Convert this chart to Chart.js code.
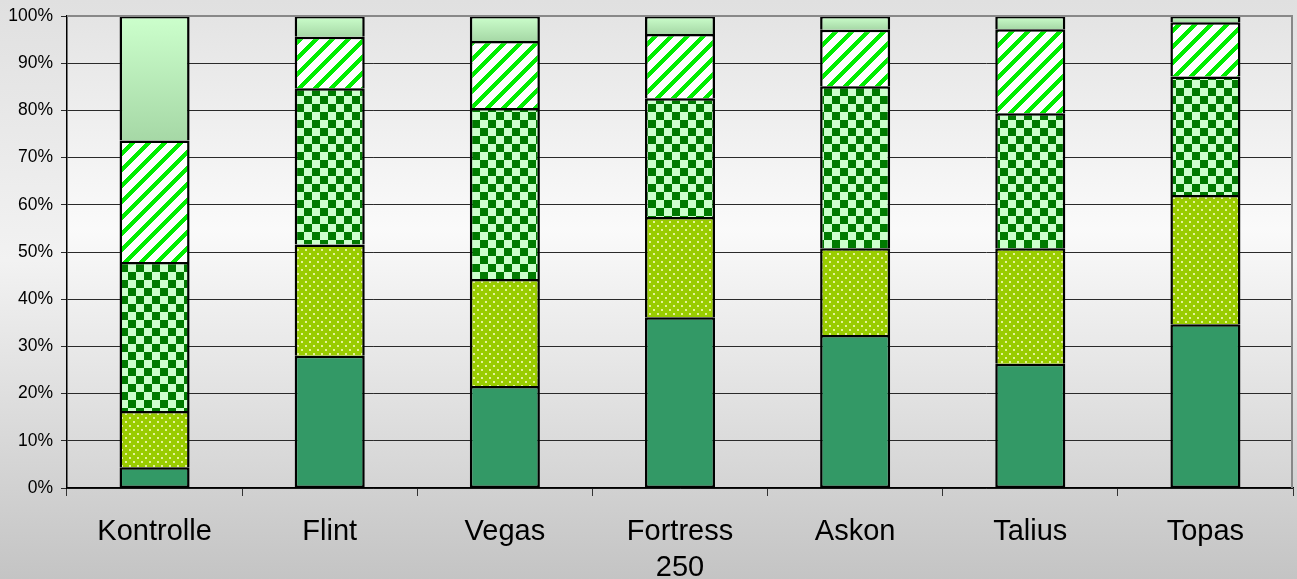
<!DOCTYPE html>
<html>
<head>
<meta charset="utf-8">
<script src="https://cdn.jsdelivr.net/npm/chart.js@4/dist/chart.umd.min.js"></script>
<style>
    html, body { margin: 0; padding: 0; }
    #wrap { width: 1297px; height: 579px; }
</style>
</head>
<body>
<div id="wrap"><canvas id="chart"></canvas></div>
<script>
const categories = ["Kontrolle", "Flint", "Vegas", ["Fortress", "250"], "Askon", "Talius", "Topas"];
const yTicks = [0, 10, 20, 30, 40, 50, 60, 70, 80, 90, 100];

// shares per class, bottom to top (in %)
const series1 = [4.4, 28.0, 21.6, 36.2, 32.4, 26.3, 34.7];
const series2 = [11.9, 23.6, 22.7, 21.2, 18.4, 24.5, 27.4];
const series3 = [31.6, 33.1, 36.2, 25.2, 34.3, 28.6, 25.1];
const series4 = [25.7, 10.9, 14.2, 13.6, 12.0, 17.8, 11.5];
const series5 = [26.4, 4.4, 5.3, 3.8, 2.9, 2.8, 1.3];

// fill patterns
function makeTile(w, h, draw) {
    const c = document.createElement("canvas");
    c.width = w;
    c.height = h;
    draw(c.getContext("2d"), w, h);
    return document.getElementById("chart").getContext("2d").createPattern(c, "repeat");
}

const dotPattern = makeTile(8, 8, (g) => {
    g.fillStyle = "#99cc00";
    g.fillRect(0, 0, 8, 8);
    g.fillStyle = "#e4f29a";
    g.fillRect(1, 1, 2, 2);
    g.fillRect(5, 5, 2, 2);
});

const checkPattern = makeTile(16, 16, (g) => {
    g.fillStyle = "#ccffcc";
    g.fillRect(0, 0, 16, 16);
    g.fillStyle = "#007a00";
    g.fillRect(0, 0, 8, 8);
    g.fillRect(8, 8, 8, 8);
});

const stripePattern = makeTile(16, 16, (g) => {
    g.fillStyle = "#ffffff";
    g.fillRect(0, 0, 16, 16);
    g.fillStyle = "#00ee00";
    for (let x = 0; x < 16; x++) {
        for (let y = 0; y < 16; y++) {
            if ((x + y) % 16 < 6) g.fillRect(x, y, 1, 1);
        }
    }
});

function topFill(ctx) {
    const chart = ctx.chart;
    const y = chart.scales.y;
    if (!chart.chartArea || !y) return "#bfeebf";
    const i = ctx.dataIndex;
    const base = series1[i] + series2[i] + series3[i] + series4[i];
    const grad = chart.ctx.createLinearGradient(0, y.getPixelForValue(100), 0, y.getPixelForValue(base));
    grad.addColorStop(0, "#ccffcc");
    grad.addColorStop(1, "#a6d8a6");
    return grad;
}

const backgrounds = {
    id: "backgrounds",
    beforeDraw(chart) {
        const { ctx, chartArea: a, width, height } = chart;
        ctx.save();
        let g = ctx.createLinearGradient(0, 0, 0, height);
        g.addColorStop(0, "#e0e0e0");
        g.addColorStop(0.45, "#f2f2f2");
        g.addColorStop(1, "#c4c4c4");
        ctx.fillStyle = g;
        ctx.fillRect(0, 0, width, height);
        g = ctx.createLinearGradient(0, a.top, 0, a.bottom);
        g.addColorStop(0, "#e4e4e4");
        g.addColorStop(0.45, "#fafafa");
        g.addColorStop(1, "#d4d4d4");
        ctx.fillStyle = g;
        ctx.fillRect(a.left, a.top, a.right - a.left, a.bottom - a.top);
        ctx.restore();
    },
    afterDatasetsDraw(chart) {
        const { ctx, chartArea: a } = chart;
        ctx.save();
        ctx.strokeStyle = "#888888";
        ctx.lineWidth = 2;
        ctx.beginPath();
        ctx.moveTo(a.left, a.top);
        ctx.lineTo(a.right - 1, a.top);
        ctx.lineTo(a.right - 1, a.bottom);
        ctx.stroke();
        ctx.restore();
    }
};

function ds(data, fill, bw) {
    return {
        data: data,
        backgroundColor: fill,
        borderColor: "#000000",
        borderWidth: bw || { left: 2.5, right: 2.5, top: 2.5, bottom: 0 },
        borderSkipped: false,
        inflateAmount: 0,
        barPercentage: 0.4,
        categoryPercentage: 1.0
    };
}

new Chart(document.getElementById("chart"), {
    type: "bar",
    data: {
        labels: categories,
        datasets: [
            ds(series1, "#339966", { left: 2.5, right: 2.5, top: 2.5, bottom: 2 }),
            ds(series2, dotPattern),
            ds(series3, checkPattern),
            ds(series4, stripePattern),
            ds(series5, topFill)
        ]
    },
    options: {
        responsive: true,
        maintainAspectRatio: false,
        animation: false,
        layout: { padding: { top: 16, right: 4, left: 0, bottom: 0 } },
        plugins: {
            legend: { display: false },
            tooltip: { enabled: false }
        },
        scales: {
            x: {
                stacked: true,
                afterFit(scale) { scale.height = 91; },
                grid: {
                    offset: true,
                    drawOnChartArea: false,
                    drawTicks: true,
                    tickLength: 8,
                    color: "#333333"
                },
                border: { color: "#000000", width: 1.5 },
                ticks: {
                    color: "#000000",
                    padding: 18,
                    font: { family: "'Liberation Sans', Arial, sans-serif", size: 29, lineHeight: 1.25 }
                }
            },
            y: {
                stacked: true,
                min: 0,
                max: 100,
                afterFit(scale) {
                    scale.width = 67;
                    scale.paddingTop = 0;
                    scale.paddingBottom = 0;
                },
                afterBuildTicks(scale) { scale.ticks = yTicks.map(v => ({ value: v })); },
                grid: {
                    color: (c) => c.tick && c.tick.value === 100 ? "rgba(0,0,0,0)" : "#2a2a2a",
                    tickColor: "#2a2a2a",
                    tickLength: 6,
                    lineWidth: 1
                },
                border: { color: "#000000", width: 1.5 },
                ticks: {
                    color: "#000000",
                    padding: 8,
                    font: { family: "'Liberation Sans', Arial, sans-serif", size: 17.5 },
                    callback: (v) => v + "%"
                }
            }
        }
    },
    plugins: [backgrounds]
});
</script>
</body>
</html>
